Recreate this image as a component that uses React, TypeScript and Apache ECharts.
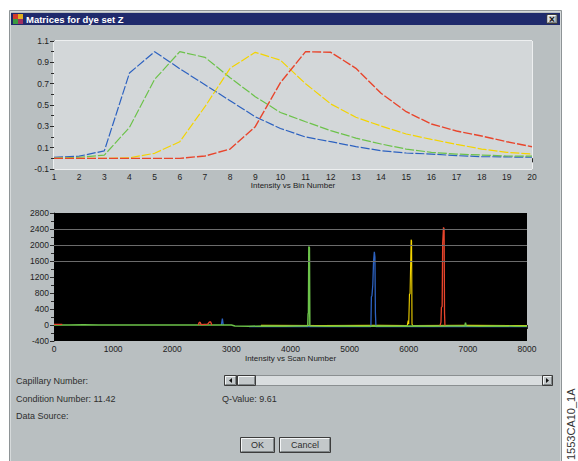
import React, { useEffect, useRef } from "react";
import * as echarts from "echarts";

// ---- Top chart: matrix (normalised intensity vs bin number) ----
const binNumbers = [1, 2, 3, 4, 5, 6, 7, 8, 9, 10, 11, 12, 13, 14, 15, 16, 17, 18, 19, 20];
const blueMatrix = [0.01, 0.02, 0.07, 0.8, 1.0, 0.84, 0.69, 0.54, 0.39, 0.28, 0.2, 0.156, 0.11, 0.072, 0.05, 0.04, 0.025, 0.016, 0.013, 0.01];
const greenMatrix = [0.0, 0.01, 0.03, 0.29, 0.74, 1.0, 0.947, 0.756, 0.578, 0.43, 0.343, 0.26, 0.19, 0.134, 0.087, 0.056, 0.04, 0.031, 0.022, 0.02];
const yellowMatrix = [0, 0, 0, 0.005, 0.047, 0.156, 0.484, 0.844, 0.994, 0.92, 0.7, 0.51, 0.385, 0.303, 0.228, 0.178, 0.131, 0.087, 0.056, 0.041];
const redMatrix = [0, 0, 0, 0, 0, 0, 0.022, 0.087, 0.297, 0.71, 1.0, 0.994, 0.844, 0.61, 0.437, 0.322, 0.256, 0.209, 0.156, 0.109];

// ---- Bottom chart: raw traces (intensity vs scan number) ----
const greenTrace = [
  [0, 0], [250, 0], [500, 5], [750, 0], [1000, 0], [1250, 0], [1500, 0], [1750, 0], [2000, 0], [2250, 0],
  [2500, 0], [2750, 0], [3000, 0], [3060, -25], [3300, -30], [3600, -25], [3900, -30], [4200, -25],
  [4292, -25], [4298, 280], [4304, 300], [4310, 1960], [4320, 1930], [4327, -25], [4600, -30], [4900, -25],
  [5200, -30], [5500, -25], [5800, -30], [6100, -25], [6400, -30], [6700, -25], [6950, -25], [6960, 60],
  [6970, -25], [7200, -30], [7500, -25], [7800, -30], [8000, -30],
];
const blueTrace = [
  [2830, 0], [2848, 160], [2862, 0], [2870, null], [3300, -40], [4000, -35], [4700, -40], [5360, -40],
  [5368, 700], [5378, 740], [5392, 1000], [5405, 1600], [5418, 1830], [5428, 1700], [5436, 300], [5445, -40],
  [6200, -35], [7000, -40], [8000, -40],
];
const yellowTrace = [
  [3500, -10], [4500, -15], [5500, -10], [5975, -15], [5990, 110], [6000, 20], [6012, 770], [6022, 780],
  [6040, 2130], [6048, 2100], [6055, 20], [6070, -15], [7000, -10], [8000, -15],
];
const redTrace = [
  [0, 15], [140, 15], [150, null], [2440, 0], [2455, 60], [2470, 70], [2490, 10], [2600, 20], [2630, 80],
  [2650, 75], [2670, 0], [2680, null], [6530, -10], [6545, 70], [6552, 440], [6565, 460], [6574, 2050],
  [6588, 2440], [6598, 2400], [6605, 300], [6612, -10],
];
const traceGridValues = [1600, 2000, 2400];

const titleText = "Matrices for dye set Z";
const capillaryLabel = "Capillary Number:";
const conditionLabel = "Condition Number: 11.42";
const qValueLabel = "Q-Value: 9.61";
const dataSourceLabel = "Data Source:";
const figureId = "1553CA10_1A";

const BLUE = "#2d62c0";
const GREEN = "#6cc24a";
const YELLOW = "#f3d400";
const RED = "#e8452c";
const FONT = "Liberation Sans";

export default function App() {
  const ref = useRef<HTMLDivElement>(null);
  useEffect(() => {
    if (!ref.current) return;
    const chart = echarts.init(ref.current, undefined, { renderer: "svg" });
    const axisLabel = { fontFamily: FONT, fontSize: 8.5, color: "#1e1e1e" };
    const axisLine = { show: true, lineStyle: { color: "#2a2a2a", width: 1 } };
    const plain = (v: number) => String(Math.round(v * 10) / 10);
    const mk = (d: number[]) => binNumbers.map((b, i) => [b, d[i]]);
    const topLine = (name: string, color: string, d: number[], w = 1.2) => ({
      name, type: "line", xAxisIndex: 0, yAxisIndex: 0, data: mk(d), showSymbol: false,
      lineStyle: { color, width: w, type: [9, 2] }, silent: true,
    });
    const botLine = (name: string, color: string, d: any[], w = 1.2, extra: any = {}) => ({
      name, type: "line", xAxisIndex: 1, yAxisIndex: 1, data: d, showSymbol: false, connectNulls: false,
      lineStyle: { color, width: w }, silent: true, ...extra,
    });
    const txt = (x: number, y: number, text: string, extra: any = {}) => ({
      type: "text", x, y, z: 20,
      style: { text, fill: "#2e2e2e", font: `9px "${FONT}"`, textVerticalAlign: "middle", ...extra },
    });
    const raised = (x: number, y: number, w: number, h: number, fill = "#c3c8ca") => [
      { type: "rect", z: 20, shape: { x, y, width: w, height: h }, style: { fill, stroke: "#3c3c3c", lineWidth: 1 } },
      { type: "polyline", z: 21, shape: { points: [[x + 1, y + h - 1], [x + 1, y + 1], [x + w - 1, y + 1]] }, style: { stroke: "#f4f6f7", lineWidth: 1, fill: null } },
      { type: "polyline", z: 21, shape: { points: [[x + 1, y + h - 1], [x + w - 1, y + h - 1], [x + w - 1, y + 1]] }, style: { stroke: "#7f8587", lineWidth: 1, fill: null } },
    ];
    chart.setOption({
      animation: false,
      backgroundColor: "#ffffff",
      grid: [
        { left: 54, top: 41, width: 478, height: 128, show: true, backgroundColor: "#d3d7d9", borderWidth: 0, z: 1 },
        { left: 54, top: 213, width: 473, height: 128, show: true, backgroundColor: "#000000", borderWidth: 0, z: 1 },
      ],
      xAxis: [
        {
          gridIndex: 0, type: "value", min: 1, max: 20, interval: 1,
          axisLine, axisTick: { length: 4, lineStyle: { color: "#2a2a2a" } },
          minorTick: { show: true, splitNumber: 2, length: 3, lineStyle: { color: "#2a2a2a" } },
          splitLine: { show: true, lineStyle: { color: "#ffffff", width: 1.5 } },
          axisLabel: { ...axisLabel, margin: 3, formatter: plain },
          name: "Intensity vs Bin Number", nameLocation: "middle", nameGap: 12,
          nameTextStyle: { fontFamily: FONT, fontSize: 8, color: "#222" },
        },
        {
          gridIndex: 1, type: "value", min: 0, max: 8000, interval: 1000,
          axisLine, axisTick: { length: 4, lineStyle: { color: "#2a2a2a" } },
          minorTick: { show: true, splitNumber: 2, length: 3, lineStyle: { color: "#2a2a2a" } },
          splitLine: { show: false },
          axisLabel: { ...axisLabel, margin: 3, formatter: plain },
          name: "Intensity vs Scan Number", nameLocation: "middle", nameGap: 13,
          nameTextStyle: { fontFamily: FONT, fontSize: 8, color: "#222" },
        },
      ],
      yAxis: [
        {
          gridIndex: 0, type: "value", min: -0.1, max: 1.1, interval: 0.2,
          axisLine, axisTick: { length: 4, lineStyle: { color: "#2a2a2a" } },
          minorTick: { show: true, splitNumber: 2, length: 3, lineStyle: { color: "#2a2a2a" } },
          splitLine: { show: true, lineStyle: { color: "#ffffff", width: 1.5 } },
          axisLabel: { ...axisLabel, margin: 5, formatter: plain },
        },
        {
          gridIndex: 1, type: "value", min: -400, max: 2800, interval: 400,
          axisLine, axisTick: { length: 4, lineStyle: { color: "#2a2a2a" } },
          minorTick: { show: true, splitNumber: 2, length: 3, lineStyle: { color: "#2a2a2a" } },
          splitLine: { show: false },
          axisLabel: { ...axisLabel, margin: 5, formatter: plain },
        },
      ],
      series: [
        topLine("blue", BLUE, blueMatrix),
        topLine("green", GREEN, greenMatrix),
        topLine("yellow", YELLOW, yellowMatrix),
        topLine("red", RED, redMatrix, 1.4),
        botLine("yellow trace", YELLOW, yellowTrace, 1.1),
        botLine("blue trace", BLUE, blueTrace, 1.3),
        botLine("green trace", GREEN, greenTrace, 1.5, {
          markLine: {
            silent: true, symbol: "none", label: { show: false },
            lineStyle: { color: "#6b6b6b", width: 1, type: "solid" },
            data: traceGridValues.map((v) => ({ yAxis: v })),
          },
        }),
        botLine("red trace", RED, redTrace, 1.3),
      ],
      graphic: [
        // window
        { type: "rect", z: -10, shape: { x: 9.5, y: 10.5, width: 552, height: 460 }, style: { fill: "#b9bfc1", stroke: "#8e9496", lineWidth: 1 } },
        { type: "rect", z: -9, shape: { x: 10.5, y: 11.5, width: 550, height: 460 }, style: { fill: null, stroke: "#d6dadb", lineWidth: 1 } },
        // title bar
        { type: "rect", z: 10, shape: { x: 11, y: 13, width: 549, height: 12 }, style: { fill: "#1f2a6c" } },
        { type: "rect", z: 11, shape: { x: 13, y: 14, width: 5, height: 5 }, style: { fill: "#d23a2a" } },
        { type: "rect", z: 11, shape: { x: 18, y: 14, width: 5, height: 5 }, style: { fill: "#e0b020" } },
        { type: "rect", z: 11, shape: { x: 13, y: 19, width: 5, height: 5 }, style: { fill: "#3a9a40" } },
        { type: "rect", z: 11, shape: { x: 18, y: 19, width: 5, height: 5 }, style: { fill: "#a03060" } },
        { type: "text", z: 12, x: 26, y: 19, style: { text: titleText, fill: "#ffffff", font: `bold 9.5px "${FONT}"`, textVerticalAlign: "middle" } },
        ...raised(547, 14.5, 10, 9, "#c6cbcd"),
        { type: "text", z: 23, x: 552, y: 19, style: { text: "×", fill: "#111", font: `bold 10px "${FONT}"`, textAlign: "center", textVerticalAlign: "middle" } },
        // labels
        txt(16, 381, capillaryLabel),
        txt(16, 399, conditionLabel),
        txt(222, 399, qValueLabel),
        txt(16, 416, dataSourceLabel),
        // scrollbar
        { type: "rect", z: 19, shape: { x: 224.5, y: 375.5, width: 328, height: 10 }, style: { fill: "#d9dddf", stroke: "#8a8f91", lineWidth: 1 } },
        ...raised(224.5, 375.5, 12, 10),
        { type: "polygon", z: 23, shape: { points: [[232, 378], [232, 383], [229, 380.5]] }, style: { fill: "#111" } },
        ...raised(237.5, 375.5, 18, 10),
        ...raised(542.5, 375.5, 10, 10),
        { type: "polygon", z: 23, shape: { points: [[546, 378], [546, 383], [549, 380.5]] }, style: { fill: "#111" } },
        // buttons
        ...raised(240.5, 437.5, 34, 15),
        txt(257.5, 445, "OK", { textAlign: "center" }),
        ...raised(279.5, 437.5, 51, 15),
        txt(305, 445, "Cancel", { textAlign: "center" }),
        // figure id
        { type: "text", z: 20, x: 571, y: 460, rotation: Math.PI / 2, style: { text: figureId, fill: "#333", font: `11px "${FONT}"`, textAlign: "left", textVerticalAlign: "middle" } },
      ],
    });
    return () => chart.dispose();
  }, []);
  return <div ref={ref} style={{ position: "fixed", left: 0, top: 0, width: 578, height: 461 }} />;
}
